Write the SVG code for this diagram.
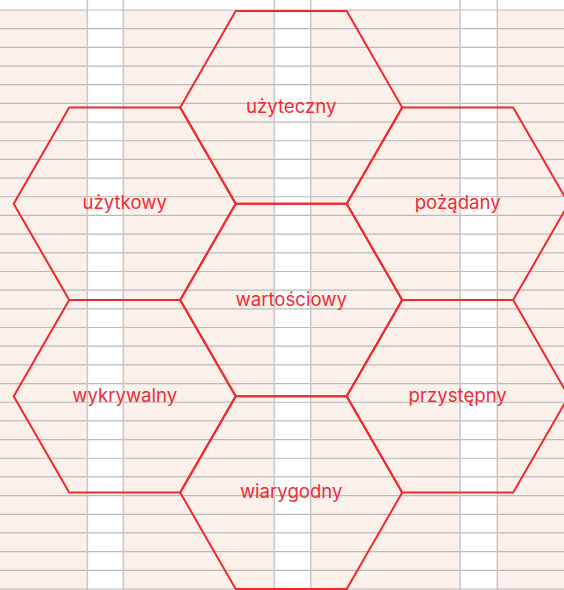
<svg xmlns="http://www.w3.org/2000/svg" width="564" height="590" viewBox="0 0 564 590">
  <style>
    .hex { fill: none; stroke: #ee2a2f; stroke-width: 2; stroke-linejoin: miter; }
    .lbl { font-family: Inter, "Liberation Sans", sans-serif; font-size: 18.6px; fill: #ef2b36; text-anchor: middle; }
    .hline { stroke: #b9b9b9; stroke-width: 1.2; fill: none; }
    .vline { stroke: #c9c9c9; stroke-width: 1.6; fill: none; }
  </style>
  <defs>
    <polygon id="hexshape" class="hex" points="-111,0 -55.5,-96.3 55.5,-96.3 111,0 55.5,96.3 -55.5,96.3"/>
  </defs>
  <g id="background">
    <rect x="0" y="0" width="564" height="590" fill="#ffffff"/>
    <rect x="0" y="10" width="564" height="580" fill="#fbf1ea"/>
    <rect x="87.3" y="0" width="36" height="590" fill="#ffffff"/>
    <rect x="274.3" y="0" width="36.4" height="590" fill="#ffffff"/>
    <rect x="460" y="0" width="37.3" height="590" fill="#ffffff"/>
    <path class="hline" d="M0 10H564M0 28.68H564M0 47.35H564M0 66.03H564M0 84.71H564M0 103.39H564M0 122.06H564M0 140.74H564M0 159.42H564M0 178.1H564M0 196.77H564M0 215.45H564M0 234.13H564M0 252.81H564M0 271.48H564M0 290.16H564M0 308.84H564M0 327.52H564M0 346.19H564M0 364.87H564M0 383.55H564M0 402.23H564M0 420.9H564M0 439.58H564M0 458.26H564M0 476.94H564M0 495.61H564M0 514.29H564M0 532.97H564M0 551.65H564M0 570.32H564M0 589H564"/>
    <path class="vline" d="M87.3 0V590M123.3 0V590M274.3 0V590M310.7 0V590M460 0V590M497.3 0V590"/>
  </g>
  <g id="connectors"></g>
  <g id="hex-uzyteczny" transform="translate(291.2 107.4)">
    <use href="#hexshape"/>
    <text class="lbl" x="0" y="5.5">użyteczny</text>
  </g>
  <g id="hex-uzytkowy" transform="translate(124.7 203.7)">
    <use href="#hexshape"/>
    <text class="lbl" x="0" y="5.5">użytkowy</text>
  </g>
  <g id="hex-pozadany" transform="translate(457.7 203.7)">
    <use href="#hexshape"/>
    <text class="lbl" x="0" y="5.5">pożądany</text>
  </g>
  <g id="hex-wartosciowy" transform="translate(291.2 300)">
    <use href="#hexshape"/>
    <text class="lbl" x="0" y="5.5">wartościowy</text>
  </g>
  <g id="hex-wykrywalny" transform="translate(124.7 396.3)">
    <use href="#hexshape"/>
    <text class="lbl" x="0" y="5.5">wykrywalny</text>
  </g>
  <g id="hex-przystepny" transform="translate(457.7 396.3)">
    <use href="#hexshape"/>
    <text class="lbl" x="0" y="5.5">przystępny</text>
  </g>
  <g id="hex-wiarygodny" transform="translate(291.2 492.6)">
    <use href="#hexshape"/>
    <text class="lbl" x="0" y="5.5">wiarygodny</text>
  </g>
</svg>
